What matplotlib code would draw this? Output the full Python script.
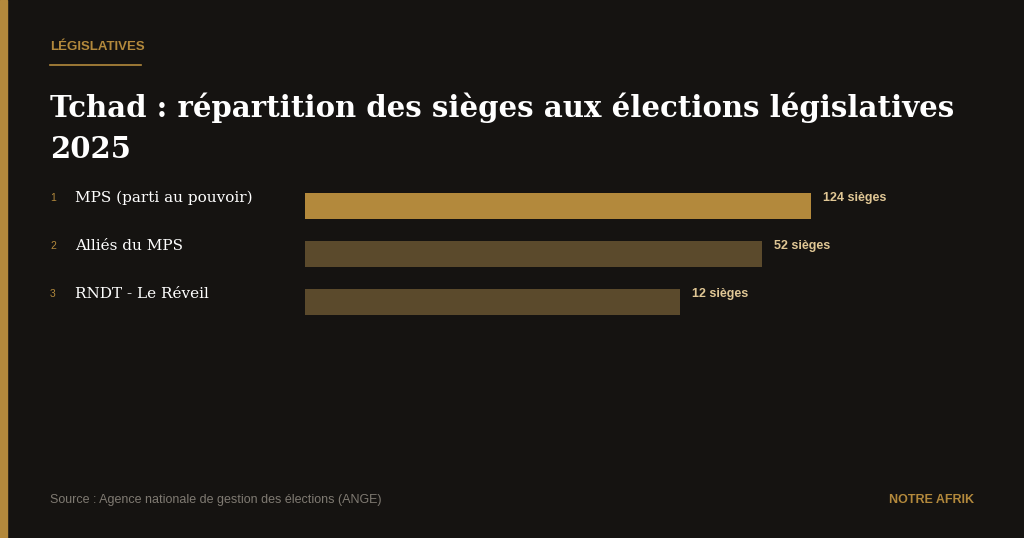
import matplotlib
matplotlib.use("Agg")
import matplotlib.pyplot as plt
from matplotlib.patches import Rectangle

ranks = ["1", "2", "3"]
parties = ["MPS (parti au pouvoir)", "Alliés du MPS", "RNDT - Le Réveil"]
seats = [124, 52, 12]
value_labels = ["124 sièges", "52 sièges", "12 sièges"]

BG = "#151311"
GOLD = "#b3893c"
DARK = "#5b4a2c"

fig = plt.figure(figsize=(10.24, 5.38), dpi=100, facecolor=BG)
fig.patches.append(Rectangle((0, 0), 7/1024, 1, transform=fig.transFigure, color=GOLD))

H = 538
def fy(p): return 1 - p / H

fig.text(50/1024, fy(47), "LÉGISLATIVES", color=GOLD, fontsize=9.5, fontweight="bold",
         family="Liberation Sans", va="center")
fig.lines.append(plt.Line2D([50/1024, 141/1024], [fy(65), fy(65)], transform=fig.transFigure,
                            color=GOLD, lw=1.2))
fig.text(50/1024, fy(108), "Tchad : répartition des sièges aux élections législatives",
         color="white", fontsize=21, fontweight="bold", family="DejaVu Serif", va="center")
fig.text(50/1024, fy(149), "2025", color="white", fontsize=21, fontweight="bold",
         family="DejaVu Serif", va="center")

ax = fig.add_axes([305/1024, fy(326), 506/1024, 144/H])
ax.set_facecolor("none")
ax.set_xscale("log")
v0 = 0.0149
colors = [GOLD, DARK, DARK]
ypos = list(range(len(seats)))
ax.barh(ypos, [s - v0 for s in seats], left=v0, height=0.54, color=colors)
ax.set_xlim(v0, max(seats))
ax.set_ylim(2.5, -0.5)
ax.axis("off")
for y, s, lab, r, p in zip(ypos, seats, value_labels, ranks, parties):
    ax.annotate(lab, (s, y), xytext=(12, 8), textcoords="offset pixels", color="#e0c795",
                fontsize=9, fontweight="bold", family="Liberation Sans", va="center",
                annotation_clip=False)
    ax.annotate(r, (0, y), xycoords=("figure fraction", "data"), xytext=(50, 8),
                textcoords="offset pixels", color=GOLD, fontsize=7.5, family="Liberation Sans",
                va="center", annotation_clip=False)
    ax.annotate(p, (0, y), xycoords=("figure fraction", "data"), xytext=(75, 8),
                textcoords="offset pixels", color="white", fontsize=11, family="DejaVu Serif",
                va="center", annotation_clip=False)

fig.text(50/1024, fy(500), "Source : Agence nationale de gestion des élections (ANGE)",
         color="#7f7a72", fontsize=9, family="Liberation Sans", va="center")
fig.text(974/1024, fy(500), "NOTRE AFRIK", color=GOLD, fontsize=9, fontweight="bold",
         family="Liberation Sans", va="center", ha="right")

fig.savefig("out.png", dpi=100, facecolor=BG)
